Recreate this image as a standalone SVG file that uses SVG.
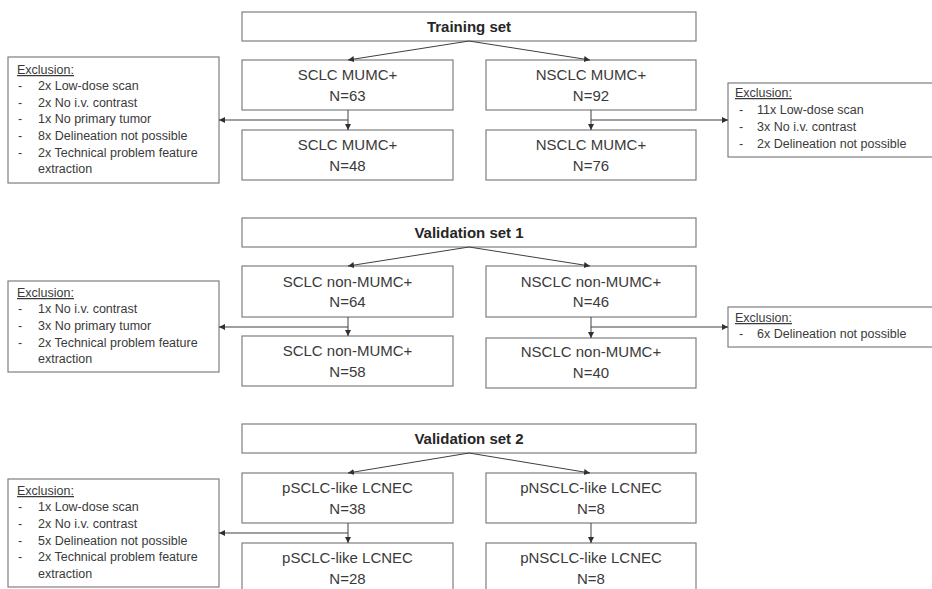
<svg xmlns="http://www.w3.org/2000/svg" width="932" height="589" viewBox="0 0 932 589">
<style>
  .box { fill: #ffffff; stroke: #7f7f7f; stroke-width: 1.2; }
  .title { font-family: "Liberation Sans", Arial, sans-serif; font-size: 15px; font-weight: bold; fill: #262626; text-anchor: middle; }
  .lbl { font-family: "Liberation Sans", Arial, sans-serif; font-size: 15px; fill: #3a3a3a; text-anchor: middle; }
  .ex { font-family: "Liberation Sans", Arial, sans-serif; font-size: 12.5px; fill: #3a3a3a; }
  .exh { text-decoration: underline; }
  .conn { fill: none; stroke: #404040; stroke-width: 1; }
</style>
<defs>
  <marker id="arr" markerUnits="userSpaceOnUse" markerWidth="8" markerHeight="8" refX="6" refY="3" orient="auto">
    <path d="M0,0 L6,3 L0,6 Z" fill="#303030"/>
  </marker>
</defs>
<rect width="932" height="589" fill="#ffffff"/>

<!-- Section 1 -->
<g id="training">
  <rect class="box" x="242" y="12" width="454" height="29"/>
  <text class="title" x="469" y="32">Training set</text>
</g>
<g id="sclc_mumc_63">
  <rect class="box" x="242" y="60" width="211" height="50"/>
  <text class="lbl" x="347.5" y="80">SCLC MUMC+</text>
  <text class="lbl" x="347.5" y="101">N=63</text>
</g>
<g id="sclc_mumc_48">
  <rect class="box" x="242" y="130" width="211" height="50"/>
  <text class="lbl" x="347.5" y="150">SCLC MUMC+</text>
  <text class="lbl" x="347.5" y="171">N=48</text>
</g>
<g id="nsclc_mumc_92">
  <rect class="box" x="486" y="60" width="210" height="50"/>
  <text class="lbl" x="591" y="80">NSCLC MUMC+</text>
  <text class="lbl" x="591" y="101">N=92</text>
</g>
<g id="nsclc_mumc_76">
  <rect class="box" x="486" y="130" width="210" height="50"/>
  <text class="lbl" x="591" y="150">NSCLC MUMC+</text>
  <text class="lbl" x="591" y="171">N=76</text>
</g>
<g id="excl_1a">
  <rect class="box" x="8" y="57" width="211" height="126"/>
  <text class="ex exh" x="17" y="74">Exclusion:</text>
  <text class="ex" x="18" y="90">-</text><text class="ex" x="38" y="90">2x Low-dose scan</text>
  <text class="ex" x="18" y="107">-</text><text class="ex" x="38" y="107">2x No i.v. contrast</text>
  <text class="ex" x="18" y="123">-</text><text class="ex" x="38" y="123">1x No primary tumor</text>
  <text class="ex" x="18" y="140">-</text><text class="ex" x="38" y="140">8x Delineation not possible</text>
  <text class="ex" x="18" y="157">-</text><text class="ex" x="38" y="157">2x Technical problem feature</text>
  <text class="ex" x="38" y="173">extraction</text>
</g>
<g id="excl_1b">
  <rect class="box" x="728" y="83" width="210" height="74"/>
  <text class="ex exh" x="735" y="97">Exclusion:</text>
  <text class="ex" x="739" y="114">-</text><text class="ex" x="757" y="114">11x Low-dose scan</text>
  <text class="ex" x="739" y="131">-</text><text class="ex" x="757" y="131">3x No i.v. contrast</text>
  <text class="ex" x="739" y="148">-</text><text class="ex" x="757" y="148">2x Delineation not possible</text>
</g>

<!-- Section 2 -->
<g id="validation1">
  <rect class="box" x="242" y="218" width="454" height="29"/>
  <text class="title" x="469" y="238">Validation set 1</text>
</g>
<g id="sclc_non_64">
  <rect class="box" x="242" y="266" width="211" height="51"/>
  <text class="lbl" x="347.5" y="287">SCLC non-MUMC+</text>
  <text class="lbl" x="347.5" y="307">N=64</text>
</g>
<g id="sclc_non_58">
  <rect class="box" x="242" y="336" width="211" height="50"/>
  <text class="lbl" x="347.5" y="356">SCLC non-MUMC+</text>
  <text class="lbl" x="347.5" y="377">N=58</text>
</g>
<g id="nsclc_non_46">
  <rect class="box" x="486" y="266" width="210" height="51"/>
  <text class="lbl" x="591" y="287">NSCLC non-MUMC+</text>
  <text class="lbl" x="591" y="307">N=46</text>
</g>
<g id="nsclc_non_40">
  <rect class="box" x="486" y="338" width="210" height="50"/>
  <text class="lbl" x="591" y="357">NSCLC non-MUMC+</text>
  <text class="lbl" x="591" y="378">N=40</text>
</g>
<g id="excl_2a">
  <rect class="box" x="8" y="281" width="211" height="91"/>
  <text class="ex exh" x="17" y="297">Exclusion:</text>
  <text class="ex" x="18" y="313">-</text><text class="ex" x="38" y="313">1x No i.v. contrast</text>
  <text class="ex" x="18" y="330">-</text><text class="ex" x="38" y="330">3x No primary tumor</text>
  <text class="ex" x="18" y="347">-</text><text class="ex" x="38" y="347">2x Technical problem feature</text>
  <text class="ex" x="38" y="363">extraction</text>
</g>
<g id="excl_2b">
  <rect class="box" x="728" y="307" width="210" height="40"/>
  <text class="ex exh" x="735" y="322">Exclusion:</text>
  <text class="ex" x="739" y="338">-</text><text class="ex" x="757" y="338">6x Delineation not possible</text>
</g>

<!-- Section 3 -->
<g id="validation2">
  <rect class="box" x="242" y="424" width="454" height="29"/>
  <text class="title" x="469" y="444">Validation set 2</text>
</g>
<g id="psclc_38">
  <rect class="box" x="242" y="473" width="211" height="50"/>
  <text class="lbl" x="347.5" y="493">pSCLC-like LCNEC</text>
  <text class="lbl" x="347.5" y="514">N=38</text>
</g>
<g id="psclc_28">
  <rect class="box" x="242" y="543" width="211" height="60"/>
  <text class="lbl" x="347.5" y="563">pSCLC-like LCNEC</text>
  <text class="lbl" x="347.5" y="584">N=28</text>
</g>
<g id="pnsclc_8a">
  <rect class="box" x="486" y="473" width="210" height="50"/>
  <text class="lbl" x="591" y="493">pNSCLC-like LCNEC</text>
  <text class="lbl" x="591" y="514">N=8</text>
</g>
<g id="pnsclc_8b">
  <rect class="box" x="486" y="543" width="210" height="60"/>
  <text class="lbl" x="591" y="563">pNSCLC-like LCNEC</text>
  <text class="lbl" x="591" y="584">N=8</text>
</g>
<g id="excl_3a">
  <rect class="box" x="8" y="479" width="211" height="108"/>
  <text class="ex exh" x="17" y="495">Exclusion:</text>
  <text class="ex" x="18" y="511">-</text><text class="ex" x="38" y="511">1x Low-dose scan</text>
  <text class="ex" x="18" y="528">-</text><text class="ex" x="38" y="528">2x No i.v. contrast</text>
  <text class="ex" x="18" y="545">-</text><text class="ex" x="38" y="545">5x Delineation not possible</text>
  <text class="ex" x="18" y="561">-</text><text class="ex" x="38" y="561">2x Technical problem feature</text>
  <text class="ex" x="38" y="578">extraction</text>
</g>

<g id="connectors">
  <path class="conn" d="M469,41 L348,60" marker-end="url(#arr)"/>
  <path class="conn" d="M469,41 L590,60" marker-end="url(#arr)"/>
  <path class="conn" d="M348,110 V130" marker-end="url(#arr)"/>
  <path class="conn" d="M591,110 V130" marker-end="url(#arr)"/>
  <path class="conn" d="M348,120 H219" marker-end="url(#arr)"/>
  <path class="conn" d="M591,120 H728" marker-end="url(#arr)"/>

  <path class="conn" d="M469,247 L348,266" marker-end="url(#arr)"/>
  <path class="conn" d="M469,247 L590,266" marker-end="url(#arr)"/>
  <path class="conn" d="M348,317 V336" marker-end="url(#arr)"/>
  <path class="conn" d="M591,317 V338" marker-end="url(#arr)"/>
  <path class="conn" d="M348,327 H219" marker-end="url(#arr)"/>
  <path class="conn" d="M591,327 H728" marker-end="url(#arr)"/>

  <path class="conn" d="M469,453 L348,473" marker-end="url(#arr)"/>
  <path class="conn" d="M469,453 L590,473" marker-end="url(#arr)"/>
  <path class="conn" d="M348,523 V543" marker-end="url(#arr)"/>
  <path class="conn" d="M591,523 V543" marker-end="url(#arr)"/>
  <path class="conn" d="M348,533 H219" marker-end="url(#arr)"/>
</g>
</svg>
